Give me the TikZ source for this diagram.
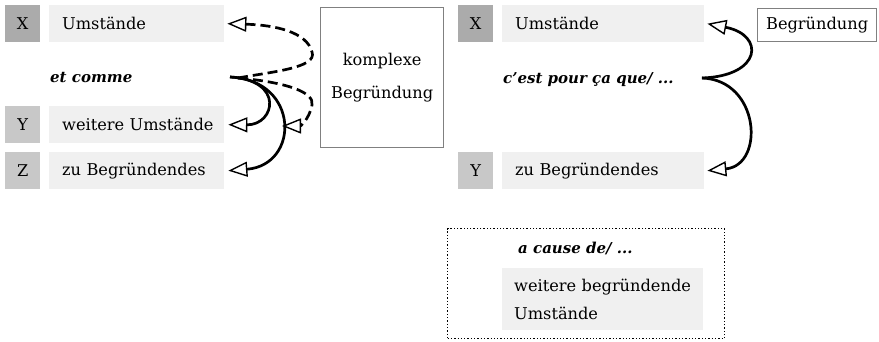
\documentclass[tikz,border=0pt]{standalone}
\usepackage{fontspec}
\setmainfont{DejaVu Serif}
\usetikzlibrary{arrows.meta}
\definecolor{darkg}{HTML}{ABABAB}
\definecolor{midg}{HTML}{C8C8C8}
\definecolor{lightg}{HTML}{F0F0F0}
\definecolor{frameg}{HTML}{808080}
\newcommand{\regfont}{\fontsize{16.2}{19.5}\selectfont}
\newcommand{\conjfont}{\fontsize{15}{18}\selectfont\bfseries\itshape}
\tikzset{
  tbox/.style={fill=lightg, draw=none, minimum height=37pt, inner xsep=13pt, inner ysep=0pt, anchor=north west, align=left},
  lbl/.style={minimum width=35pt, minimum height=37pt, inner sep=0pt, anchor=north west},
  conn/.style={line width=2.7pt, -{Triangle[open, length=19pt, width=15pt, line width=1.4pt, fill=white]}},
  dconn/.style={conn, dash pattern=on 10pt off 5pt},
  conj/.style={font=\conjfont, inner sep=0pt, anchor=west},
}
\begin{document}
\begin{tikzpicture}[x=1pt, y=-1pt, every node/.style={font=\regfont}]
\useasboundingbox (0,0) rectangle (879,341);
% left panel
\node[lbl, fill=darkg] (lx) at (5,5) {X};
\node[tbox, text width=149pt] (lu) at (49,5) {\mbox{Umstände}};
\node[conj] (let) at (50,78) {et comme};
\node[lbl, fill=midg] (ly) at (5,106) {Y};
\node[tbox, text width=149pt] (lw) at (49,106) {\mbox{weitere Umstände}};
\node[lbl, fill=midg] (lz) at (5,152) {Z};
\node[tbox, text width=149pt] (lzb) at (49,152) {\mbox{zu Begründendes}};
\node[draw=frameg, line width=1.3pt, minimum width=123pt, minimum height=140pt, anchor=north west, align=center, inner sep=0pt] (kb) at (320,7) {komplexe\\[13pt]Begründung};
\coordinate (lj) at (230,77);
\coordinate (lj2) at (238,78);
\draw[dconn] (lj2) .. controls (270,72) and (318,68) .. (312,52) .. controls (307,32) and (275,25) .. ([xshift=3pt]lu.east);
\draw[dconn] (lj2) .. controls (285,82) and (315,92) .. (312,105) .. controls (309,120) and (300,126) .. (282,126);
\draw[conn] (lj) .. controls (285,80) and (275,125) .. ([xshift=4pt]lw.east);
\draw[conn] (lj) .. controls (300,80) and (300,165) .. ([xshift=4pt]lzb.east);
% right panel
\node[lbl, fill=darkg] (rx) at (458,5) {X};
\node[tbox, text width=176pt] (ru) at (502,5) {\mbox{Umstände}};
\node[conj] (rcp) at (503,80) {c'est pour ça que/ ...};
\node[lbl, fill=midg] (ry) at (458,152) {Y};
\node[tbox, text width=176pt] (rzb) at (502,152) {\mbox{zu Begründendes}};
\node[draw=frameg, line width=1.3pt, minimum width=119pt, minimum height=33pt, anchor=north west, inner sep=0pt] (rb) at (757,8) {Begründung};
\coordinate (rj) at (702,78);
\draw[conn] (rj) .. controls (762,76) and (765,35) .. ([xshift=3pt]ru.east);
\draw[conn] (rj) .. controls (760,80) and (765,165) .. ([xshift=3pt]rzb.east);
% dotted box
\node[draw, line width=1.3pt, dash pattern=on 1.3pt off 2pt, minimum width=277pt, minimum height=110pt, anchor=north west, inner sep=0pt] (dot) at (447,228) {};
\node[conj] (acd) at (518,248) {a cause de/ ...};
\node[fill=lightg, minimum width=201pt, minimum height=62pt, anchor=north west, inner xsep=12pt, inner ysep=0pt, text width=177pt, align=left] (wb) at (502,268) {\mbox{weitere begründende}\\[9pt]Umstände};
\end{tikzpicture}
\end{document}
